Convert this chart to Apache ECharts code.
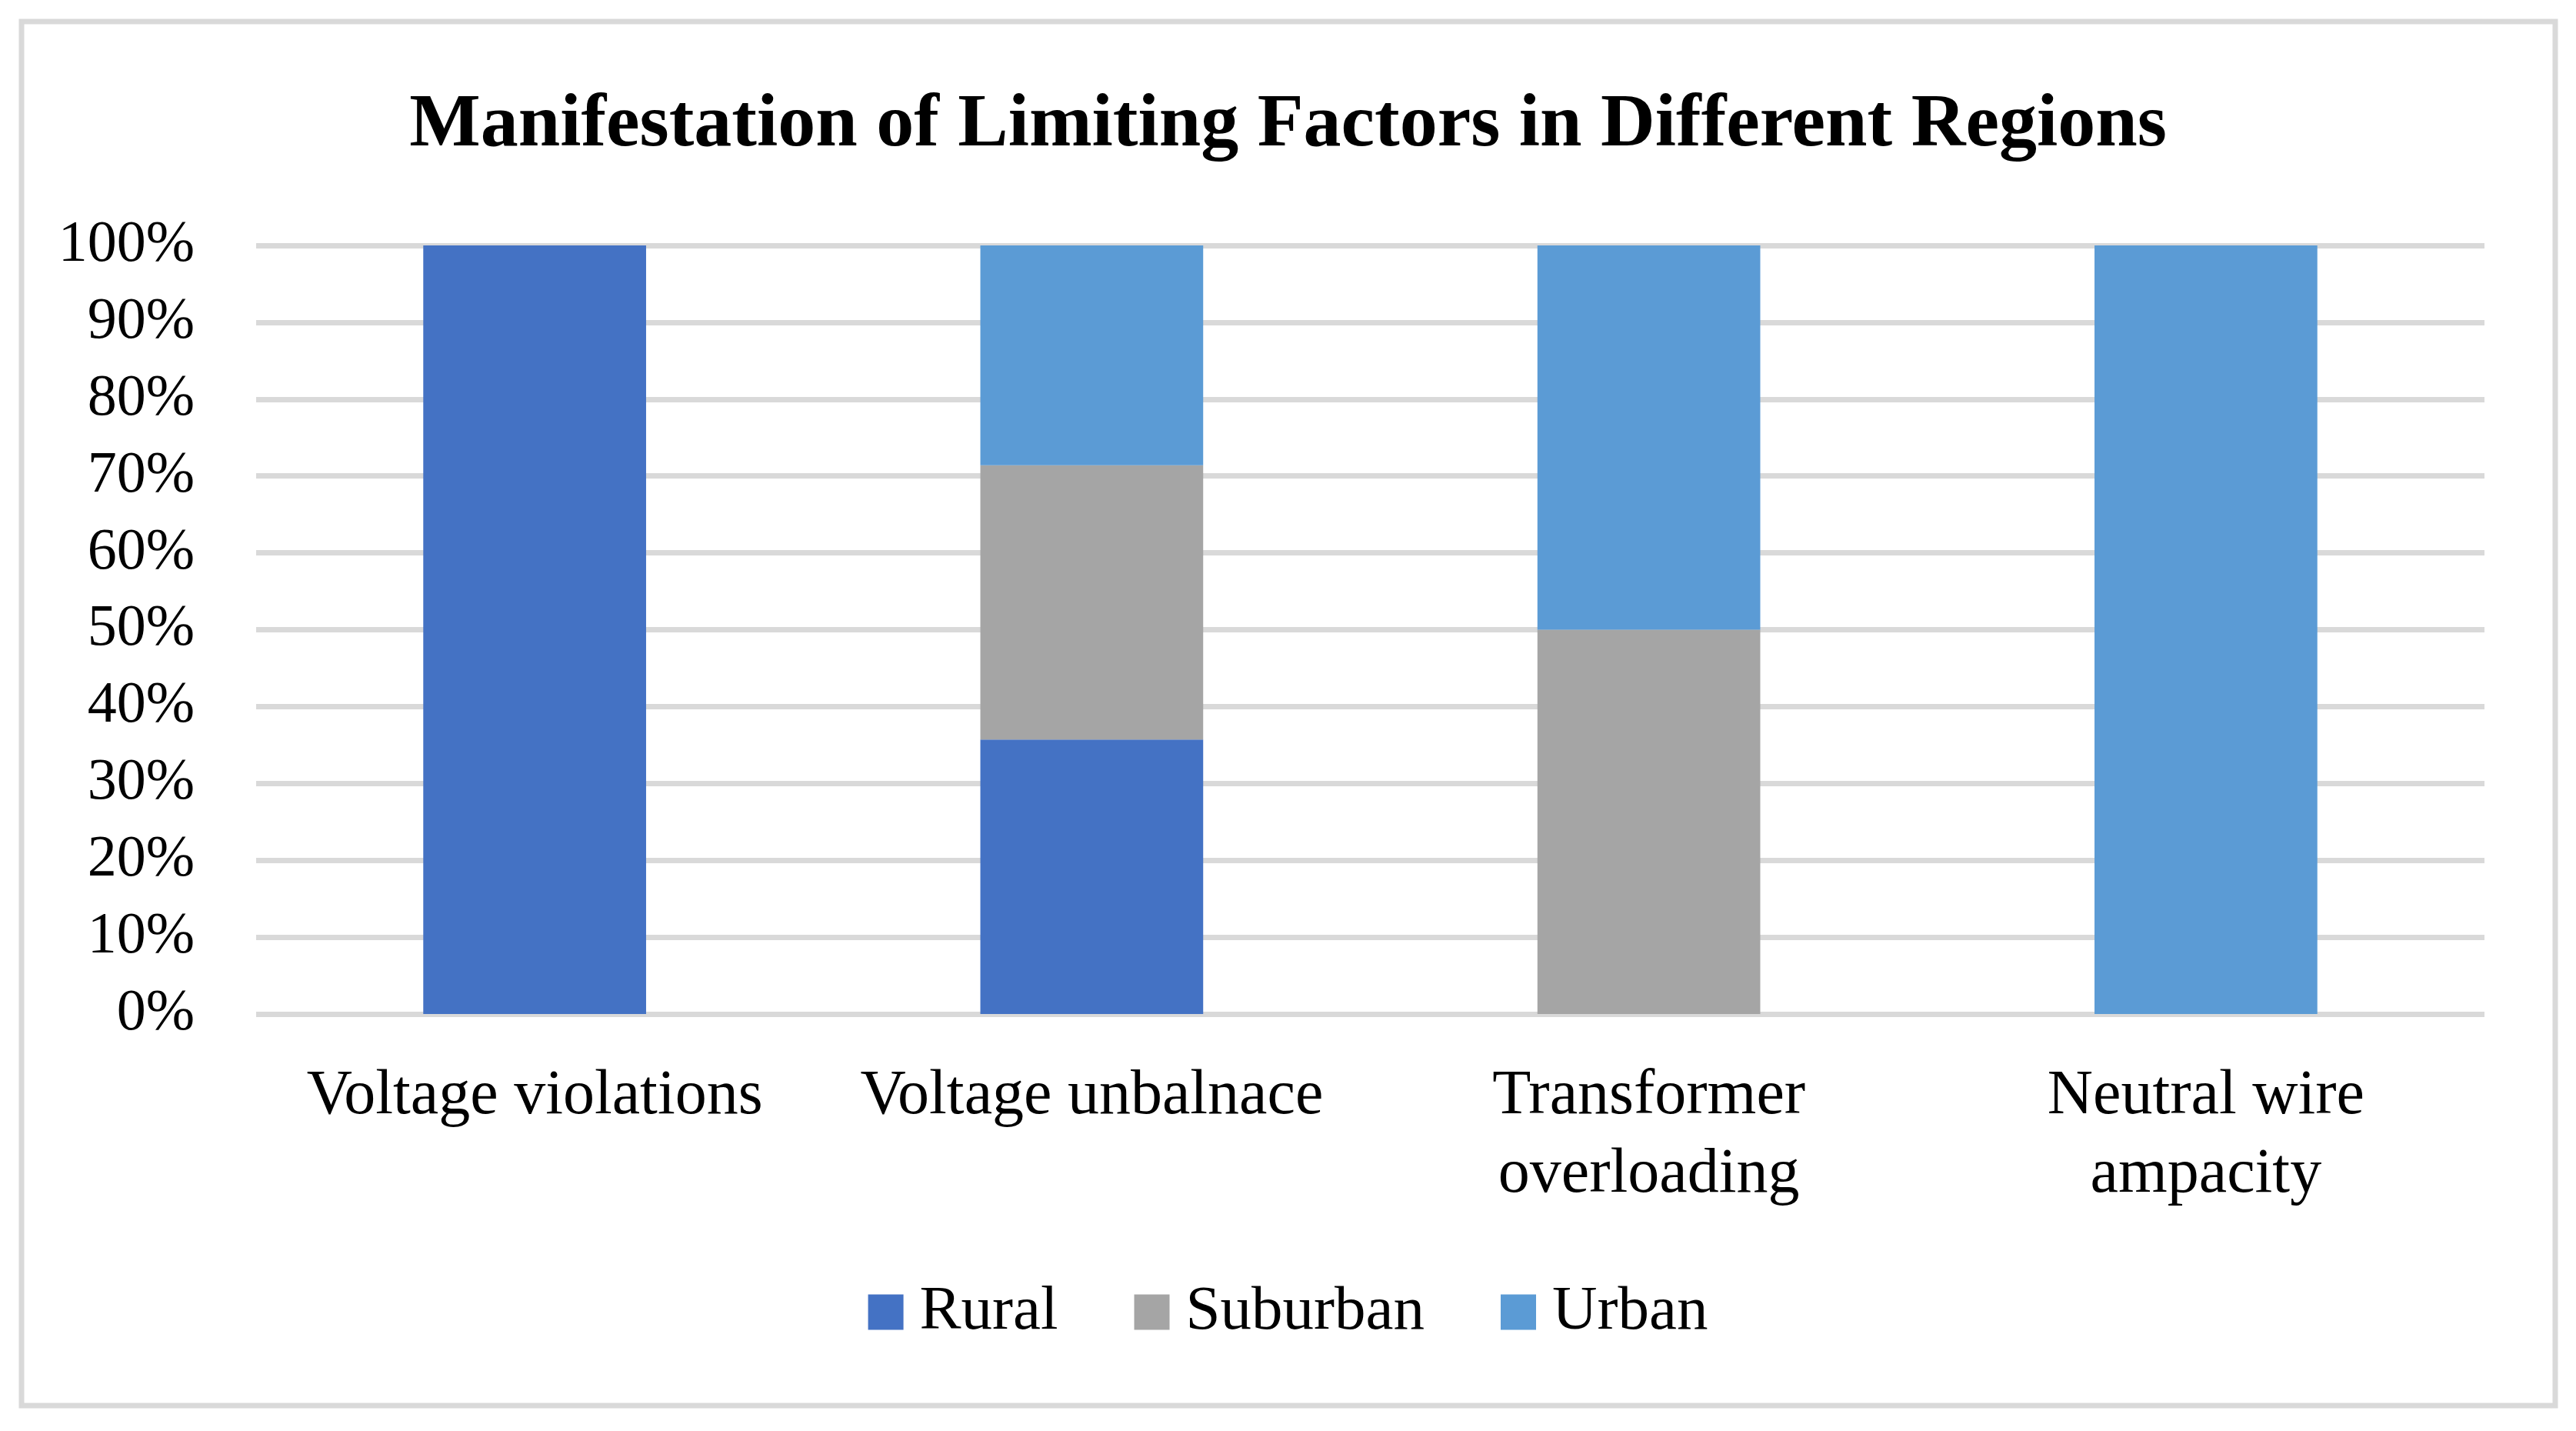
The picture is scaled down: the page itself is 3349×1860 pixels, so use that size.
<!DOCTYPE html>
<html>
<head>
<meta charset="utf-8">
<script src="https://cdn.jsdelivr.net/npm/echarts@6/dist/echarts.min.js"></script>
<style>html,body{margin:0;padding:0;background:#fff;}#c{width:3349px;height:1860px;}</style>
</head>
<body>
<div id="c"></div>
<script>
const categories = ["Voltage violations", "Voltage unbalnace", "Transformer\noverloading", "Neutral wire\nampacity"];
const seriesNames = ["Rural", "Suburban", "Urban"];
const rural = [100, 35.7, 0, 0];
const suburban = [0, 35.7, 50, 0];
const urban = [0, 28.6, 50, 100];
const yTicks = [0, 10, 20, 30, 40, 50, 60, 70, 80, 90, 100];
const colors = ["#4472c4", "#a5a5a5", "#5b9bd5"];

const FONT = "'Liberation Serif', 'Times New Roman', serif";
const chart = echarts.init(document.getElementById('c'));
const values = [rural, suburban, urban];
chart.setOption({
  animation: false,
  backgroundColor: '#fff',
  title: {
    text: 'Manifestation of Limiting Factors in Different Regions',
    left: 'center', top: 115, padding: 0,
    textStyle: { fontFamily: FONT, fontWeight: 'bold', fontSize: 98, color: '#000' }
  },
  graphic: [{
    type: 'rect', shape: { x: 28, y: 28, width: 3294, height: 1799 },
    style: { fill: 'none', stroke: '#d9d9d9', lineWidth: 7 }, z: -1
  }],
  legend: {
    data: seriesNames, top: 1660, left: 'center',
    icon: 'rect', itemWidth: 46, itemHeight: 46, itemGap: 99,
    textStyle: { fontFamily: FONT, fontSize: 81, color: '#000', lineHeight: 46, padding: [0, 0, 0, 16] }
  },
  grid: { left: 333, right: 119, top: 319, bottom: 542, containLabel: false },
  xAxis: {
    type: 'category', data: categories,
    axisLine: { show: false }, axisTick: { show: false },
    axisLabel: { fontFamily: FONT, fontSize: 82, color: '#000', margin: 56, lineHeight: 102, interval: 0 }
  },
  yAxis: {
    type: 'value', min: 0, max: 100, interval: 10,
    axisLine: { show: false }, axisTick: { show: false },
    axisLabel: {
      fontFamily: FONT, fontSize: 76, color: '#000', margin: 80,
      formatter: v => (yTicks.includes(v) ? v + '%' : '')
    },
    splitLine: { lineStyle: { color: '#d9d9d9', width: 7 } }
  },
  series: seriesNames.map((n, i) => ({
    name: n, type: 'bar', stack: 'total', data: values[i],
    barWidth: '40%', itemStyle: { color: colors[i] }
  }))
});
</script>
</body>
</html>
